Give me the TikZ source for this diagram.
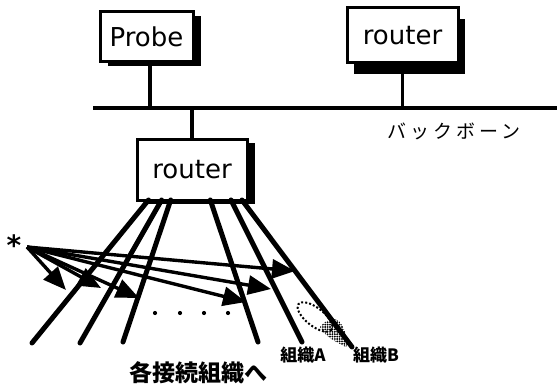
\documentclass[tikz,border=0pt]{standalone}
\usepackage{fontspec}
\setsansfont{DejaVu Sans}
\newfontfamily\boxfont{DejaVu Sans}
\newfontfamily\jpfont{Noto Sans CJK JP}
\newfontfamily\jpspaced[LetterSpace=22]{Noto Sans CJK JP}
\newfontfamily\symfont{DejaVu Sans}
\usetikzlibrary{arrows.meta,shadows}
\tikzset{
  boxnode/.style={draw, line width=3pt, fill=white, inner sep=0pt,
    font=\boxfont\fontsize{26}{26}\selectfont},
  wire/.style={line width=3.5pt},
  fanline/.style={line width=5pt, line cap=round},
  probearrow/.style={line width=3.4pt, -{Triangle[length=23pt,width=19pt]}},
  jpbold/.style={font=\jpfont\bfseries\fontsize{23}{23}\selectfont, inner sep=0pt},
  jpsmall/.style={font=\jpfont\bfseries\fontsize{17}{17}\selectfont, inner sep=0pt},
}
\begin{document}
\begin{tikzpicture}[x=1pt,y=-1pt]
\useasboundingbox (0,0) rectangle (559,385);
% boxes
\node[boxnode, minimum width=93pt, minimum height=50pt,
  drop shadow={shadow xshift=8pt, shadow yshift=-4pt, fill=black, opacity=1}]
  (probe) at (146.5,37) {Probe};
\node[boxnode, minimum width=111pt, minimum height=55pt,
  drop shadow={shadow xshift=7pt, shadow yshift=-11pt, fill=black, opacity=1}]
  (rtop) at (402.5,35.5) {router};
\node[boxnode, minimum width=110pt, minimum height=61pt,
  drop shadow={shadow xshift=8pt, shadow yshift=-4pt, fill=black, opacity=1}]
  (rbot) at (192,169.5) {router};
% backbone
\coordinate (bbL) at (93,108);
\coordinate (bbR) at (557,108);
\coordinate (pj) at (150,108);
\draw[wire] (bbL) -- (bbR);
\draw[wire] (pj |- probe.south) -- (pj);
\draw[wire] (rtop.south) -- (rtop.south |- bbL);
\draw[wire] (rbot.north) -- (rbot.north |- bbL);
\node[font=\jpspaced\fontsize{19}{19}\selectfont, inner sep=0pt] (bbtext) at (454,131) {バックボーン};
% fan lines
\coordinate (s1) at (148.5,200); \coordinate (e1) at (32,343);
\coordinate (s2) at (161.6,200); \coordinate (e2) at (80,343);
\coordinate (s3) at (170.7,200); \coordinate (e3) at (123,342);
\coordinate (s4) at (210.3,200); \coordinate (e4) at (258,342);
\coordinate (s5) at (231,200);   \coordinate (e5) at (302,342);
\coordinate (s6) at (242,200);   \coordinate (e6) at (352,347);
\foreach \i in {1,...,6} { \draw[fanline] (s\i) -- (e\i); }
% dots
\foreach \x [count=\k] in {155,180,204,228} { \fill (\x,313) circle[radius=2.1pt] coordinate (dot\k); }
% asterisk and probe arrows
\node[font=\symfont\bfseries\fontsize{28}{28}\selectfont, inner sep=0pt] (ast) at (14,245) {*};
\coordinate (ao) at (27,247);
\coordinate (t1) at (66,290);
\coordinate (t2) at (101,288);
\coordinate (t3) at (139,298);
\coordinate (t4) at (246,302);
\coordinate (t5) at (271,289);
\coordinate (t6) at (295,271);
\foreach \i in {1,...,6} { \draw[probearrow] (ao) -- (t\i); }
% blob
\coordinate (blobc) at (315,317);
\draw[dotted, line width=2pt, rotate around={-38:(blobc)}] (blobc) ellipse [x radius=21, y radius=9];
\begin{scope}
\clip (320,327) .. controls (328,317) and (338,317) .. (342,325) .. controls (346,333) and (349,344) .. (346,347) .. controls (338,343) and (325,337) .. (320,327) -- cycle;
\foreach \gx in {318,320.4,...,350} { \foreach \gy in {315,317.4,...,350} { \fill (\gx,\gy) circle[radius=1.05pt]; } }
\end{scope}
% labels
\node[jpbold] (dest) at (198,373) {各接続組織へ};
\node[jpsmall] (orgA) at (303,355) {組織A};
\node[jpsmall] (orgB) at (376,355) {組織B};
\end{tikzpicture}
\end{document}
